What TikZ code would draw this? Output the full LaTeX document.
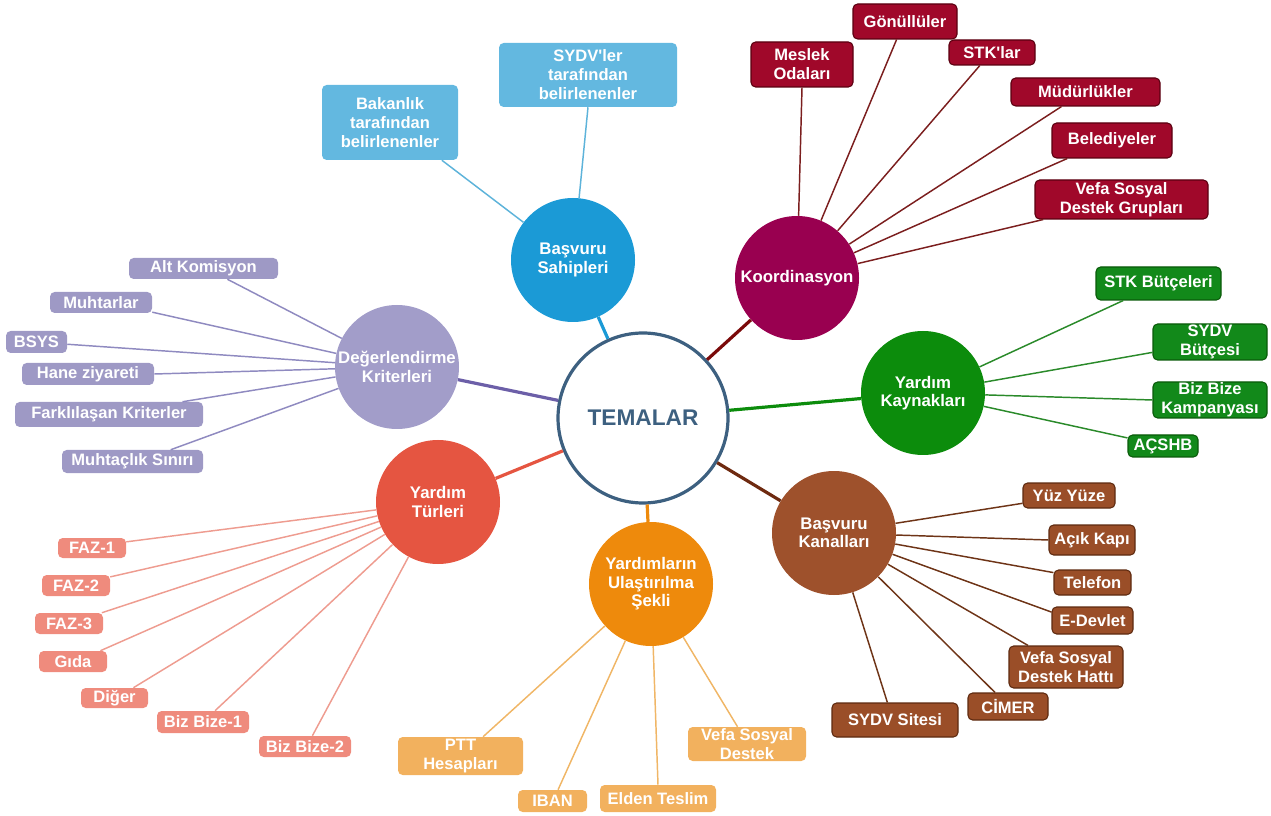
\documentclass[tikz,border=0pt]{standalone}
\usepackage{fontspec}
\setmainfont{Liberation Sans}[Ligatures=TeXOff]
\usetikzlibrary{calc}
\definecolor{temC}{HTML}{3D6080}
\definecolor{blueM}{HTML}{1B9AD6}\definecolor{blueB}{HTML}{63B8E0}\definecolor{blueL}{HTML}{5DB3DA}
\definecolor{koM}{HTML}{990050}\definecolor{koB}{HTML}{A0082A}\definecolor{koD}{HTML}{5A0010}\definecolor{koL}{HTML}{7B1E1E}\definecolor{koT}{HTML}{7A0A0A}
\definecolor{grM}{HTML}{0C8C0C}\definecolor{grB}{HTML}{12891A}\definecolor{grD}{HTML}{0A5A0A}\definecolor{grL}{HTML}{2A8A2A}
\definecolor{brM}{HTML}{9E512C}\definecolor{brB}{HTML}{9A4E28}\definecolor{brD}{HTML}{5E2A10}\definecolor{brL}{HTML}{6E3417}\definecolor{brT}{HTML}{6E2A10}
\definecolor{orM}{HTML}{EE8A0C}\definecolor{orB}{HTML}{F2B15E}\definecolor{orL}{HTML}{F0B666}
\definecolor{reM}{HTML}{E55541}\definecolor{reB}{HTML}{EF8B7D}\definecolor{reL}{HTML}{EE9C90}
\definecolor{puM}{HTML}{A29DC9}\definecolor{puB}{HTML}{9E99C5}\definecolor{puL}{HTML}{8F8AC0}\definecolor{puT}{HTML}{6C5FA8}
\newcommand{\mybox}[7]{\node[#2, minimum width={(#5-#3)*0.75pt}, minimum height={(#6-#4)*0.75pt}] (#1) at ({(#3+#5)/2},{(#4+#6)/2}) {#7};}
\tikzset{
  circ/.style={circle, minimum size=93pt, inner sep=0pt, text=white, align=center, font=\fontsize{12.6}{13.8}\selectfont\bfseries},
  bxs/.style={rounded corners=3.5pt, inner sep=0pt, text=white, align=center, font=\fontsize{12.4}{14.2}\selectfont\bfseries},
  thin sub/.style={line width=1.1pt},
  main link/.style={line width=2.4pt}
}
\begin{document}
\begin{tikzpicture}[x=0.75pt,y=-0.75pt]
\useasboundingbox (0,0) rectangle (1271,816);
% circles
\node[circle, draw=temC, line width=2.4pt, fill=white, minimum size=127.5pt, inner sep=0pt, text=temC, font=\fontsize{17}{19}\selectfont\bfseries] (tem) at (643,418) {TEMALAR};
\node[circ, fill=blueM] (bs) at (573,260) {Başvuru\\Sahipleri};
\node[circ, fill=koM] (ko) at (797,278) {Koordinasyon};
\node[circ, fill=grM] (yk) at (923,393) {Yardım\\Kaynakları};
\node[circ, fill=brM] (bk) at (834,533) {Başvuru\\Kanalları};
\node[circ, fill=orM] (yu) at (651,584) {Yardımların\\Ulaştırılma\\Şekli};
\node[circ, fill=reM] (yt) at (438,502) {Yardım\\Türleri};
\node[circ, fill=puM] (dk) at (397,367) {Değerlendirme\\Kriterleri};
% main links
\draw[main link, blueM] (tem) -- (bs);
\draw[main link, koT] (tem) -- (ko);
\draw[main link, grM] (tem) -- (yk);
\draw[main link, brT] (tem) -- (bk);
\draw[main link, orM] (tem) -- (yu);
\draw[main link, reM] (tem) -- (yt);
\draw[main link, puT] (tem) -- (dk);
% Başvuru Sahipleri
\mybox{b1}{bxs, fill=blueB}{322}{85}{458}{160}{Bakanlık\\tarafından\\belirlenenler}
\mybox{b2}{bxs, fill=blueB}{499}{43}{677}{107}{SYDV'ler\\tarafından\\belirlenenler}
\draw[thin sub, blueL] (bs) -- ($(b1.south west)!.88!(b1.south east)$);
\draw[thin sub, blueL] (bs) -- (b2.south);
% Koordinasyon
\tikzset{kb/.style={bxs, fill=koB, draw=koD, line width=0.8pt}}
\mybox{k1}{kb}{751}{42}{853}{87}{Meslek\\Odaları}
\mybox{k2}{kb}{853}{4}{957}{39}{Gönüllüler}
\mybox{k3}{kb}{949}{40}{1035}{65}{STK'lar}
\mybox{k4}{kb}{1011}{78}{1160}{106}{Müdürlükler}
\mybox{k5}{kb}{1052}{123}{1172}{158}{Belediyeler}
\mybox{k6}{kb}{1035}{180}{1208}{219}{Vefa Sosyal\\Destek Grupları}
\draw[thin sub, koL] (ko) -- (k1.south);
\draw[thin sub, koL] (ko) -- ($(k2.south west)!.42!(k2.south east)$);
\draw[thin sub, koL] (ko) -- ($(k3.south west)!.36!(k3.south east)$);
\draw[thin sub, koL] (ko) -- ($(k4.south west)!.34!(k4.south east)$);
\draw[thin sub, koL] (ko) -- ($(k5.south west)!.13!(k5.south east)$);
\draw[thin sub, koL] (ko) -- ($(k6.south west)!.05!(k6.south east)$);
% Yardım Kaynakları
\tikzset{gb/.style={bxs, fill=grB, draw=grD, line width=0.8pt}}
\mybox{y1}{gb}{1096}{267}{1221}{300}{STK Bütçeleri}
\mybox{y2}{gb}{1153}{324}{1267}{360}{SYDV\\Bütçesi}
\mybox{y3}{gb}{1153}{382}{1267}{418}{Biz Bize\\Kampanyası}
\mybox{y4}{gb}{1128}{435}{1198}{457}{AÇSHB}
\draw[thin sub, grL] (yk) -- ($(y1.south west)!.22!(y1.south east)$);
\draw[thin sub, grL] (yk) -- ($(y2.north west)!.78!(y2.south west)$);
\draw[thin sub, grL] (yk) -- (y3.west);
\draw[thin sub, grL] (yk) -- ($(y4.north west)!.15!(y4.south west)$);
% Başvuru Kanalları
\tikzset{cb/.style={bxs, fill=brB, draw=brD, line width=0.8pt}}
\mybox{c1}{cb}{1023}{483}{1115}{508}{Yüz Yüze}
\mybox{c2}{cb}{1049}{525}{1135}{555}{Açık Kapı}
\mybox{c3}{cb}{1054}{570}{1131}{595}{Telefon}
\mybox{c4}{cb}{1052}{607}{1133}{634}{E-Devlet}
\mybox{c5}{cb}{1009}{646}{1123}{688}{Vefa Sosyal\\Destek Hattı}
\mybox{c6}{cb}{968}{693}{1048}{720}{CİMER}
\mybox{c7}{cb}{832}{703}{958}{737}{SYDV Sitesi}
\draw[thin sub, brL] (bk) -- ($(c1.north west)!.8!(c1.south west)$);
\draw[thin sub, brL] (bk) -- (c2.west);
\draw[thin sub, brL] (bk) -- ($(c3.north west)!.12!(c3.south west)$);
\draw[thin sub, brL] (bk) -- ($(c4.north west)!.2!(c4.south west)$);
\draw[thin sub, brL] (bk) -- ($(c5.north west)!.17!(c5.north east)$);
\draw[thin sub, brL] (bk) -- ($(c6.north west)!.34!(c6.north east)$);
\draw[thin sub, brL] (bk) -- ($(c7.north west)!.44!(c7.north east)$);
% Yardımların Ulaştırılma Şekli
\tikzset{ob/.style={bxs, fill=orB}}
\mybox{u1}{ob}{398}{737}{523}{775}{PTT\\Hesapları}
\mybox{u2}{ob}{518}{790}{587}{812}{IBAN}
\mybox{u3}{ob}{600}{785}{716}{812}{Elden Teslim}
\mybox{u4}{ob}{688}{727}{806}{761}{Vefa Sosyal\\Destek}
\draw[thin sub, orL] (yu) -- ($(u1.north west)!.68!(u1.north east)$);
\draw[thin sub, orL] (yu) -- ($(u2.north west)!.58!(u2.north east)$);
\draw[thin sub, orL] (yu) -- (u3.north);
\draw[thin sub, orL] (yu) -- ($(u4.north west)!.42!(u4.north east)$);
% Yardım Türleri
\tikzset{rb/.style={bxs, fill=reB}}
\mybox{t1}{rb}{58}{538}{126}{558}{FAZ-1}
\mybox{t2}{rb}{42}{575}{110}{596}{FAZ-2}
\mybox{t3}{rb}{35}{613}{103}{634}{FAZ-3}
\mybox{t4}{rb}{39}{651}{107}{672}{Gıda}
\mybox{t5}{rb}{81}{688}{148}{708}{Diğer}
\mybox{t6}{rb}{157}{711}{249}{733}{Biz Bize-1}
\mybox{t7}{rb}{259}{736}{351}{757}{Biz Bize-2}
\draw[thin sub, reL] (yt) -- ($(t1.north east)!.2!(t1.south east)$);
\draw[thin sub, reL] (yt) -- ($(t2.north east)!.1!(t2.south east)$);
\draw[thin sub, reL] (yt) -- ($(t3.north west)!.98!(t3.north east)$);
\draw[thin sub, reL] (yt) -- ($(t4.north west)!.9!(t4.north east)$);
\draw[thin sub, reL] (yt) -- ($(t5.north west)!.78!(t5.north east)$);
\draw[thin sub, reL] (yt) -- ($(t6.north west)!.63!(t6.north east)$);
\draw[thin sub, reL] (yt) -- ($(t7.north west)!.58!(t7.north east)$);
% Değerlendirme Kriterleri
\tikzset{pb/.style={bxs, fill=puB}}
\mybox{d1}{pb}{129}{258}{278}{279}{Alt Komisyon}
\mybox{d2}{pb}{50}{292}{152}{313}{Muhtarlar}
\mybox{d3}{pb}{6}{331}{67}{353}{BSYS}
\mybox{d4}{pb}{22}{363}{154}{385}{Hane ziyareti}
\mybox{d5}{pb}{15}{402}{203}{427}{Farklılaşan Kriterler}
\mybox{d6}{pb}{62}{450}{203}{473}{Muhtaçlık Sınırı}
\draw[thin sub, puL] (dk) -- ($(d1.south west)!.66!(d1.south east)$);
\draw[thin sub, puL] (dk) -- ($(d2.north east)!.95!(d2.south east)$);
\draw[thin sub, puL] (dk) -- ($(d3.north east)!.6!(d3.south east)$);
\draw[thin sub, puL] (dk) -- (d4.east);
\draw[thin sub, puL] (dk) -- ($(d5.north west)!.89!(d5.north east)$);
\draw[thin sub, puL] (dk) -- ($(d6.north west)!.77!(d6.north east)$);
\end{tikzpicture}
\end{document}
